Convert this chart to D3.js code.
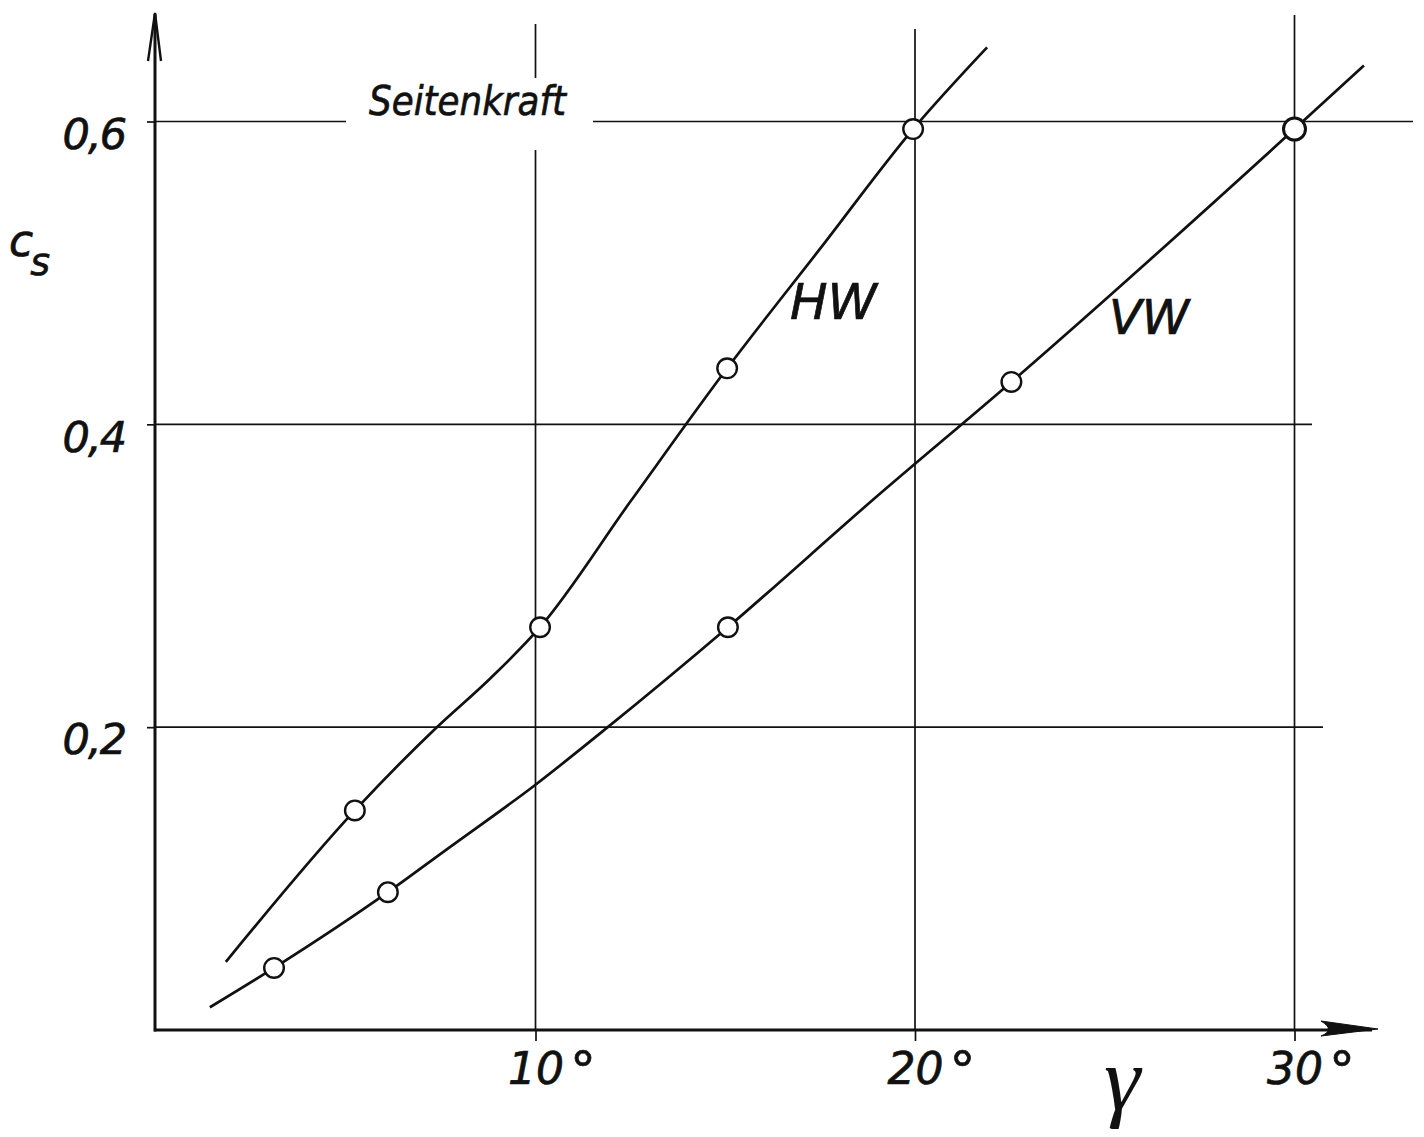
<!DOCTYPE html>
<html>
<head>
<meta charset="utf-8">
<script src="https://cdn.jsdelivr.net/npm/d3@7"></script>
<style>
  body { margin: 0; background: #fff; }
  text { font-family: "DejaVu Sans", sans-serif; font-style: italic; fill: #111; stroke: #111; stroke-width: 0.7px; }
</style>
</head>
<body>
<div id="chart"></div>
<script>
// values: gamma in degrees, c_s
const xTicks = [10, 20, 30]
const yTicks = [0.2, 0.4, 0.6]

// measured points (circles)
const hwPoints = [[5.24, 0.145], [10.12, 0.266], [15.05, 0.437], [19.95, 0.595]]
const vwPoints = [[3.11, 0.041], [6.11, 0.091], [15.07, 0.266], [22.54, 0.428], [30.0, 0.595]]

// faired curves drawn through them (incl. the free ends)
const hwCurve = [[1.84, 0.045], [5.24, 0.145], [7.38, 0.1995], [8.8, 0.232], [10.12, 0.266],
  [12.5, 0.349], [15.05, 0.437], [17.5, 0.516], [19.95, 0.595], [21.9, 0.649]]
const vwCurve = [[1.42, 0.015], [3.11, 0.041], [6.11, 0.091], [7.59, 0.118], [10.0, 0.162],
  [11.88, 0.1995], [15.07, 0.266], [18.93, 0.351], [22.54, 0.428], [30.0, 0.595], [31.83, 0.637]]

const width = 1424, height = 1137

const svg = d3.select("#chart")
  .append("svg")
  .attr("width", width)
  .attr("height", height)

var x = d3.scaleLinear().domain([0, 30]).range([156, 1294.5])
var y = d3.scaleLinear().domain([0, 0.6]).range([1030, 121.5])

// grid lines, each hand-drawn line has its own length
const hLineEnd = { 0.2: 1323, 0.4: 1312, 0.6: 1413 }
const vLineTop = { 10: 24, 20: 29, 30: 15 }

const grid = svg.append("g").attr("stroke", "#111").attr("stroke-width", 1.7)

yTicks.forEach(v => {
  if (v === 0.6) {
    // gap for the title
    grid.append("line").attr("x1", x(0)).attr("x2", 346).attr("y1", y(v)).attr("y2", y(v))
    grid.append("line").attr("x1", 593).attr("x2", hLineEnd[v]).attr("y1", y(v)).attr("y2", y(v))
  } else {
    grid.append("line").attr("x1", x(0)).attr("x2", hLineEnd[v]).attr("y1", y(v)).attr("y2", y(v))
  }
})

xTicks.forEach(v => {
  if (v === 10) {
    grid.append("line").attr("x1", x(v)).attr("x2", x(v)).attr("y1", y(0)).attr("y2", 150)
    grid.append("line").attr("x1", x(v)).attr("x2", x(v)).attr("y1", 78).attr("y2", vLineTop[v])
  } else {
    grid.append("line").attr("x1", x(v)).attr("x2", x(v)).attr("y1", y(0)).attr("y2", vLineTop[v])
  }
})

// axes (ticks + labels)
const yAxis = d3.axisLeft(y)
  .tickValues(yTicks)
  .tickSize(9)
  .tickPadding(4)
  .tickFormat(d => d3.format(".1f")(d).replace(".", ","))

const yAxisGroup = svg.append("g")
  .attr("transform", "translate(" + x(0) + ",0)")
  .call(yAxis)
yAxisGroup.select(".domain").remove()
yAxisGroup.selectAll(".tick line").attr("stroke", "#111").attr("stroke-width", 1.7)
yAxisGroup.selectAll(".tick text")
  .attr("dy", "0.62em")
  .attr("x", -31)
  .style("font-size", "43px")
  .style("letter-spacing", "-2px")
  .style("font-family", "DejaVu Sans")
  .style("font-style", "italic")
  .attr("fill", "#111")

const xAxis = d3.axisBottom(x)
  .tickValues(xTicks)
  .tickSize(11)
  .tickPadding(12)
  .tickFormat(d => d)

const xAxisGroup = svg.append("g")
  .attr("transform", "translate(0," + y(0) + ")")
  .call(xAxis)
xAxisGroup.select(".domain").remove()
xAxisGroup.selectAll(".tick line").attr("stroke", "#111").attr("stroke-width", 1.7)
xAxisGroup.selectAll(".tick text")
  .attr("text-anchor", "start")
  .attr("x", -28)
  .attr("dy", "0.71em")
  .style("font-size", "44px")
  .style("font-family", "DejaVu Sans")
  .style("font-style", "italic")
  .attr("fill", "#111")
// degree sign, set apart from the number
xAxisGroup.selectAll(".tick text").append("tspan")
  .attr("dx", 6)
  .attr("dy", 4)
  .style("font-size", "52px")
  .text("°")

// axis lines with arrows
const axes = svg.append("g").attr("stroke", "#111").attr("fill", "none")
axes.append("line")
  .attr("x1", x(0) - 1).attr("x2", x(0) - 1)
  .attr("y1", y(0) + 1.5).attr("y2", 14)
  .attr("stroke-width", 3)
axes.append("path")
  .attr("d", "M" + (x(0) - 8) + ",61 L" + (x(0) - 1) + ",13 L" + (x(0) + 5) + ",61")
  .attr("stroke-width", 2.4)
axes.append("line")
  .attr("x1", x(0) - 2).attr("x2", 1372)
  .attr("y1", y(0)).attr("y2", y(0))
  .attr("stroke-width", 3)
axes.append("path")
  .attr("d", "M1378," + (y(0) - 1) + " L1321," + (y(0) - 9) + " Q1336," + y(0) + " 1321," + (y(0) + 6) + " Z")
  .attr("fill", "#111")
  .attr("stroke-width", 1)

// curves
const line = d3.line()
  .x(d => x(d[0]))
  .y(d => y(d[1]))
  .curve(d3.curveMonotoneX)

svg.append("path")
  .datum(hwCurve)
  .attr("d", line)
  .attr("fill", "none")
  .attr("stroke", "#111")
  .attr("stroke-width", 2.7)

svg.append("path")
  .datum(vwCurve)
  .attr("d", line)
  .attr("fill", "none")
  .attr("stroke", "#111")
  .attr("stroke-width", 2.7)

// measured points
svg.selectAll("circle.hw")
  .data(hwPoints)
  .enter()
  .append("circle")
  .attr("class", "hw")
  .attr("cx", d => x(d[0]))
  .attr("cy", d => y(d[1]))
  .attr("r", 9.8)
  .attr("fill", "#fff")
  .attr("stroke", "#111")
  .attr("stroke-width", 2.4)

svg.selectAll("circle.vw")
  .data(vwPoints)
  .enter()
  .append("circle")
  .attr("class", "vw")
  .attr("cx", d => x(d[0]))
  .attr("cy", d => y(d[1]))
  .attr("r", d => d[0] === 30 ? 11 : 9.8)
  .attr("fill", "#fff")
  .attr("stroke", "#111")
  .attr("stroke-width", d => d[0] === 30 ? 3 : 2.4)

// labels
svg.append("text")
  .attr("x", 369).attr("y", 115)
  .attr("textLength", 197).attr("lengthAdjust", "spacingAndGlyphs")
  .style("font-size", "41px")
  .text("Seitenkraft")

svg.append("text")
  .attr("x", 790).attr("y", 319)
  .style("font-size", "50px")
  .text("HW")

svg.append("text")
  .attr("x", 1109).attr("y", 334)
  .style("font-size", "48px")
  .text("VW")

// y-axis title c_s
const cs = svg.append("text")
  .attr("x", 9).attr("y", 256)
  .style("font-size", "44px")
  .text("c")
cs.append("tspan")
  .attr("dx", -3)
  .attr("dy", 19)
  .style("font-size", "38px")
  .text("s")

// x-axis title gamma
svg.append("text")
  .attr("x", 1104).attr("y", 1110)
  .style("font-family", "Liberation Serif")
  .style("font-size", "92px")
  .style("stroke-width", "0px")
  .text("γ")
</script>
</body>
</html>
